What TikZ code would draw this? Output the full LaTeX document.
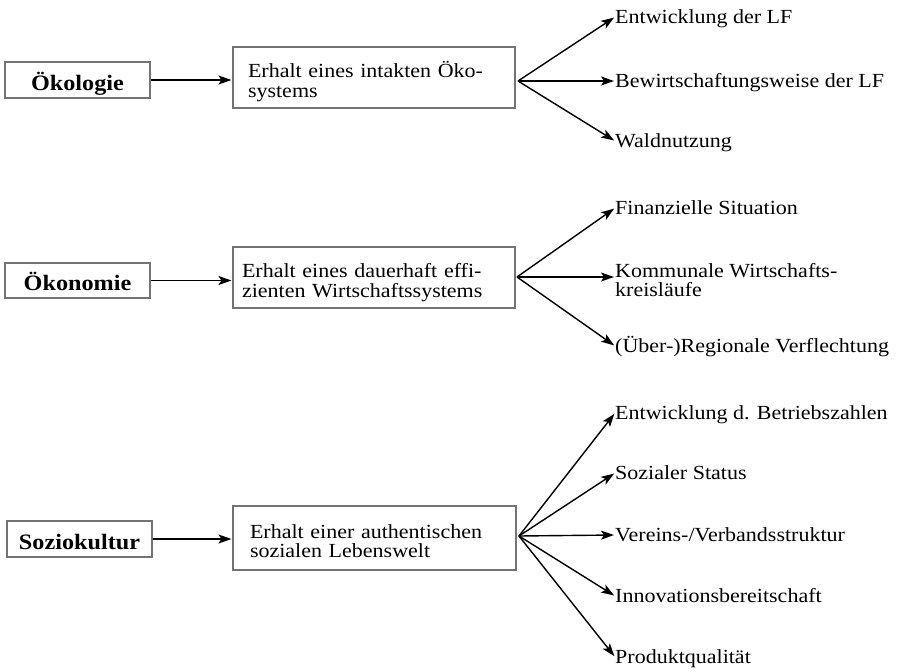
\documentclass[tikz,border=0pt]{standalone}
\usepackage{fontspec}
\setmainfont{Liberation Serif}[FakeStretch=1.1]
\usetikzlibrary{arrows.meta}
\begin{document}
\begin{tikzpicture}[x=1pt,y=-1pt,
  lbox/.style={draw=black!55, line width=1.2pt, inner sep=0pt, minimum width=145pt, minimum height=36pt,
    font=\fontsize{22}{24}\selectfont\bfseries, text height=20pt, text depth=0pt},
  mbox/.style={draw=black!55, line width=1.1pt, inner sep=0pt, align=left,
    font=\fontsize{20}{19.5}\selectfont, text height=14pt, text depth=14pt},
  lab/.style={inner sep=0pt, anchor=west, font=\fontsize{20}{19.5}\selectfont, text height=13.2pt, text depth=0pt},
  lab2/.style={inner sep=0pt, anchor=west, align=left, font=\fontsize{20}{19.5}\selectfont},
  arr/.style={line width=1.4pt, -{Stealth[length=13pt,width=9pt,inset=3pt]}, shorten >=1pt},
]
\useasboundingbox (0,0) rectangle (898,672);

% left boxes
\node[lbox] (o1) at (77.5,80) {Ökologie};
\node[lbox, minimum height=35pt] (o2) at (77.5,280.5) {Ökonomie};
\node[lbox] (o3) at (79.5,539) {Soziokultur};

% middle boxes
\node[mbox, minimum width=282pt, minimum height=61pt, text width=252pt] (m1) at (374,77.5)
  {Erhalt eines intakten Öko-\\systems};
\node[mbox, minimum width=282pt, minimum height=61pt, text width=264pt] (m2) at (374,277.5)
  {Erhalt eines dauerhaft effi-\\zienten Wirtschaftssystems};
\node[mbox, minimum width=283pt, minimum height=64pt, text width=249pt] (m3) at (374.5,538)
  {Erhalt einer authentischen\\sozialen Lebenswelt};

\draw[arr] (o1.east) -- (o1.east -| m1.west);
\draw[arr] (o2.east) -- (o2.east -| m2.west);
\draw[arr] (o3.east) -- (o3.east -| m3.west);

% fan origins
\coordinate (f1) at (518,81);
\coordinate (f2) at (517,277);
\coordinate (f3) at (519,536);

% labels
\node[lab] (a1) at (615,17) {Entwicklung der LF};
\node[lab] (a2) at (615,81) {Bewirtschaftungsweise der LF};
\node[lab] (a3) at (615,141) {Waldnutzung};

\node[lab] (b1) at (615,208) {Finanzielle Situation};
\node[lab2] (b2) at (615,280) {Kommunale Wirtschafts-\\kreisläufe};
\node[lab] (b3) at (615,346) {(Über-)Regionale Verflechtung};

\node[lab] (c1) at (615,413) {Entwicklung d. Betriebszahlen};
\node[lab] (c2) at (615,473) {Sozialer Status};
\node[lab] (c3) at (615,535) {Vereins-/Verbandsstruktur};
\node[lab] (c4) at (615,596) {Innovationsbereitschaft};
\node[lab] (c5) at (615,657) {Produktqualität};

\draw[arr] (f1) -- (a1.west);
\draw[arr] (f1) -- (a2.west);
\draw[arr] (f1) -- (a3.west);

\draw[arr] (f2) -- (b1.west);
\draw[arr] (f2) -- (f2 -| b2.west);
\draw[arr] (f2) -- (b3.west);

\draw[arr] (f3) -- (c1.west);
\draw[arr] (f3) -- (c2.west);
\draw[arr] (f3) -- (c3.west);
\draw[arr] (f3) -- (c4.west);
\draw[arr] (f3) -- (c5.west);
\end{tikzpicture}
\end{document}
